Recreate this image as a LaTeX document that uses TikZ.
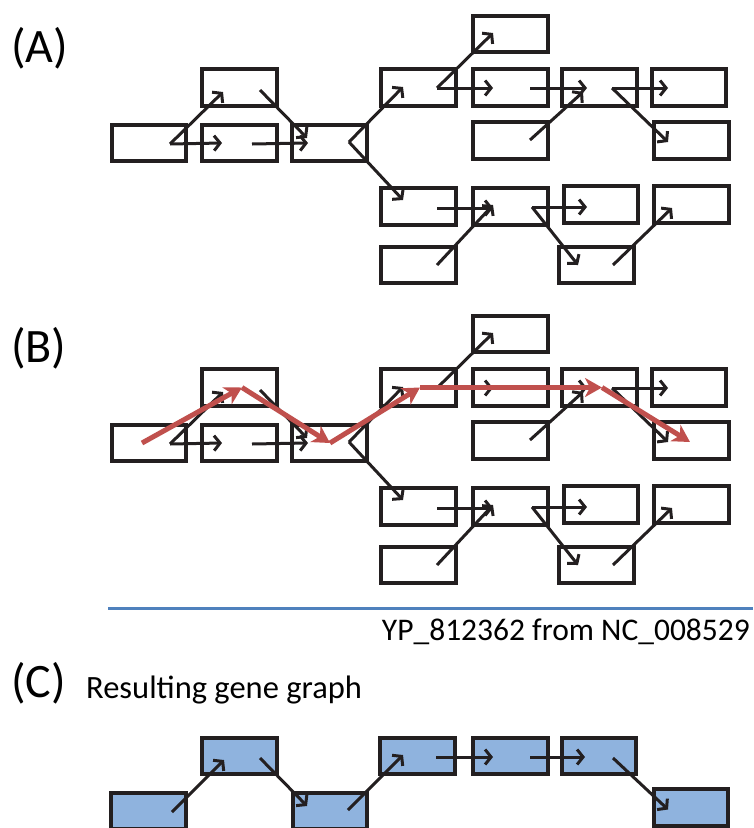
\documentclass[tikz,border=0pt]{standalone}
\usepackage{fontspec}
\setmainfont{Carlito}
\usetikzlibrary{arrows.meta}
\definecolor{ink}{RGB}{35,31,32}
\definecolor{pathred}{RGB}{192,80,77}
\definecolor{rulecol}{RGB}{79,129,189}
\definecolor{gfill}{RGB}{143,179,222}
\tikzset{
 gbox/.style={draw=ink, line width=4.2pt, minimum width=74.5pt, minimum height=36.5pt, inner sep=0pt, outer sep=0pt},
 cbox/.style={gbox, fill=gfill},
 arr/.style={draw=ink, line width=3pt, -{Straight Barb[length=6pt,width=15pt]}},
 redarr/.style={draw=pathred, line width=5pt, -{Stealth[length=17pt,width=19pt,inset=5pt]}},
 lab/.style={font=\fontsize{48}{52}\selectfont, inner sep=0pt, anchor=base west},
}
\newcommand\gengraph[2]{%
 \begin{scope}[shift={(0,#2)}]
 \node[gbox] (#1a1) at (149,143) {};
 \node[gbox] (#1a2) at (239.5,87.5) {};
 \node[gbox] (#1a3) at (239.5,143) {};
 \node[gbox] (#1a4) at (329.5,143) {};
 \node[gbox] (#1a5) at (418.5,87.5) {};
 \node[gbox] (#1a6) at (418.5,206.5) {};
 \node[gbox] (#1a7) at (418.5,265) {};
 \node[gbox] (#1a8) at (510.5,34) {};
 \node[gbox] (#1a9) at (510.5,87.5) {};
 \node[gbox] (#1a10) at (510.5,140.5) {};
 \node[gbox] (#1a11) at (510.5,206.5) {};
 \node[gbox] (#1a12) at (599.5,87.5) {};
 \node[gbox] (#1a13) at (601,204.5) {};
 \node[gbox] (#1a14) at (596.5,265) {};
 \node[gbox] (#1a15) at (689,87.5) {};
 \node[gbox] (#1a16) at (691.5,140.5) {};
 \node[gbox] (#1a17) at (691.5,204.5) {};
 \end{scope}
 \draw[arr] ([shift={(21,1)}]#1a1.center) -- ([shift={(-16.5,4.5)}]#1a2.center);
 \draw[arr] ([shift={(21,1)}]#1a1.center) -- ([shift={(-17.5,0)}]#1a3.center);
 \draw[arr] ([shift={(12.5,1)}]#1a3.center) -- ([shift={(-21.5,0)}]#1a4.center);
 \draw[arr] ([shift={(20.5,2.5)}]#1a2.center) -- ([shift={(-22.5,-5)}]#1a4.center);
 \draw[arr] ([shift={(19.5,-1)}]#1a4.center) -- ([shift={(-15.5,-0.5)}]#1a5.center);
 \draw[arr] ([shift={(19.5,-1)}]#1a4.center) -- ([shift={(-15.5,-6.5)}]#1a6.center);
 \draw[arr] ([shift={(18.5,0.5)}]#1a5.center) -- ([shift={(-17.5,-1)}]#1a8.center);
 \draw[arr] ([shift={(18.5,0.5)}]#1a5.center) -- ([shift={(-17.5,0.5)}]#1a9.center);
 \draw[arr] ([shift={(19.5,0.5)}]#1a9.center) -- ([shift={(-12.5,0.5)}]#1a12.center);
 \draw[arr] ([shift={(19.5,-0.5)}]#1a10.center) -- ([shift={(-16.5,4.5)}]#1a12.center);
 \draw[arr] ([shift={(12.5,0.5)}]#1a12.center) -- ([shift={(-21,0.5)}]#1a15.center);
 \draw[arr] ([shift={(12.5,0.5)}]#1a12.center) -- ([shift={(-23.5,1.5)}]#1a16.center);
 \draw[arr] ([shift={(18.5,1.5)}]#1a6.center) -- ([shift={(-17.5,1.5)}]#1a11.center);
 \draw[arr] ([shift={(18.5,0)}]#1a7.center) -- ([shift={(-17.5,-1.5)}]#1a11.center);
 \draw[arr] ([shift={(21.5,0.5)}]#1a11.center) -- ([shift={(-14,2.5)}]#1a13.center);
 \draw[arr] ([shift={(21.5,0.5)}]#1a11.center) -- ([shift={(-18.5,0)}]#1a14.center);
 \draw[arr] ([shift={(16.5,0)}]#1a14.center) -- ([shift={(-19.5,3.5)}]#1a17.center);
}
\begin{document}
\begin{tikzpicture}[x=1pt,y=-1pt]
\useasboundingbox (0,0) rectangle (753,828);
% labels
\node[lab] (la) at (11,62) {(A)};
\node[lab] (lb) at (11,362) {(B)};
\node[lab] (lc) at (11,697) {(C)};
\node[anchor=base west, inner sep=0pt, font=\fontsize{32.5}{36}\selectfont] (tc) at (86,698) {Resulting gene graph};
\node[anchor=base east, inner sep=0pt, font=\fontsize{31.5}{35}\selectfont] (yp) at (750,640) {YP\_812362 from NC\_008529};
% panels A and B
\gengraph{A}{0}
\gengraph{B}{300}
% red path in B
\draw[redarr] ([shift={(-7,0)}]Ba1.center) -- ([shift={(2.5,0)}]Ba2.center);
\draw[redarr] ([shift={(2.5,0)}]Ba2.center) -- ([shift={(0.5,0)}]Ba4.center);
\draw[redarr] ([shift={(0.5,0)}]Ba4.center) -- ([shift={(1.5,0)}]Ba5.center);
\draw[redarr] ([shift={(1.5,0)}]Ba5.center) -- ([shift={(2.5,0)}]Ba12.center);
\draw[redarr] ([shift={(2.5,0)}]Ba12.center) -- ([shift={(-1.5,1.5)}]Ba16.center);
% separator
\draw[rulecol, line width=3pt] (108,608) -- (753,608);
% panel C
\node[cbox] (c1) at (148.5,811) {};
\node[cbox] (c2) at (239.5,756) {};
\node[cbox] (c3) at (330,811) {};
\node[cbox] (c4) at (417.5,756) {};
\node[cbox] (c5) at (510.5,756) {};
\node[cbox] (c6) at (599,756) {};
\node[cbox] (c7) at (691,807.5) {};
\draw[arr] ([shift={(23.5,1)}]c1.center) -- ([shift={(-15.5,4)}]c2.center);
\draw[arr] ([shift={(20.5,2)}]c2.center) -- ([shift={(-23,-5)}]c3.center);
\draw[arr] ([shift={(18,-1)}]c3.center) -- ([shift={(-14.5,-1)}]c4.center);
\draw[arr] ([shift={(18.5,1)}]c4.center) -- ([shift={(-17.5,1)}]c5.center);
\draw[arr] ([shift={(19.5,1)}]c5.center) -- ([shift={(-14,1)}]c6.center);
\draw[arr] ([shift={(14,2)}]c6.center) -- ([shift={(-23,2)}]c7.center);
\end{tikzpicture}
\end{document}
